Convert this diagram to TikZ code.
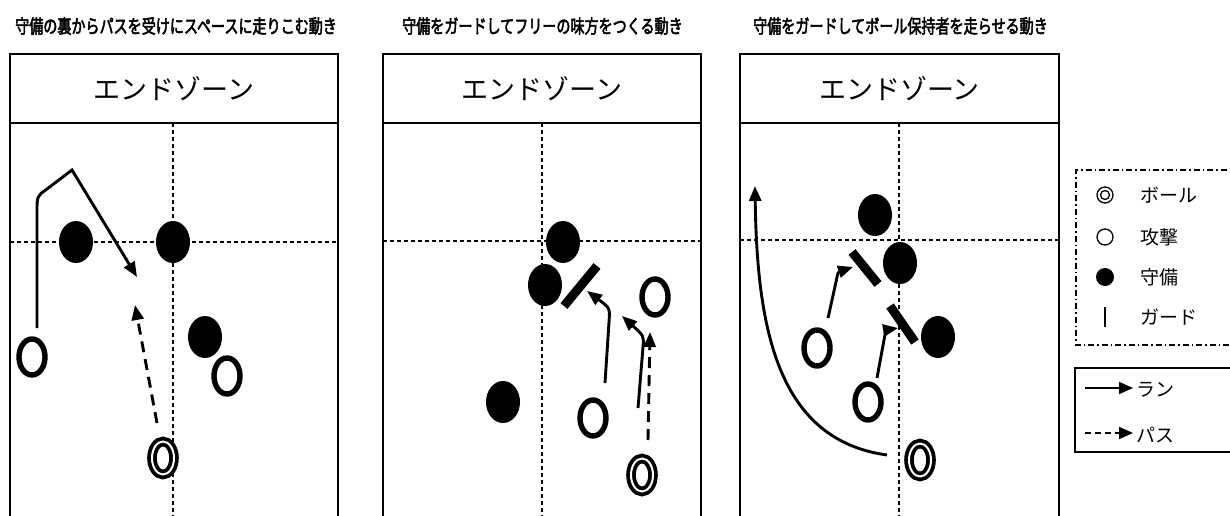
\documentclass[tikz,border=0pt]{standalone}
\usepackage{fontspec}
\usetikzlibrary{shapes.geometric,arrows.meta}
\newfontfamily\jp{Noto Sans CJK JP}
\newfontfamily\jptitle[FakeStretch=0.74,FakeBold=2.6]{Noto Sans CJK JP}
\tikzset{
  offense/.style={ellipse,draw,line width=5.4pt,minimum width=26pt,minimum height=36pt,inner sep=0pt},
  defense/.style={ellipse,fill=black,minimum width=34pt,minimum height=42pt,inner sep=0pt},
  ball/.style={ellipse,draw,line width=3.8pt,double,double distance=2pt,minimum width=22pt,minimum height=33pt,inner sep=0pt},
  guardbar/.style={line width=9pt},
  run/.style={line width=2.9pt,-{Triangle[length=15pt,width=12pt]}},
  pass/.style={line width=2.9pt,dash pattern=on 11pt off 7pt,-{Triangle[length=15pt,width=12pt]}},
  frame/.style={line width=1.4pt},
  grid/.style={line width=1.1pt,dash pattern=on 4pt off 3pt},
  title/.style={font=\jptitle\fontsize{19pt}{21pt}\selectfont,anchor=west,inner sep=0pt},
  zone/.style={font=\jp\fontsize{27pt}{30pt}\selectfont,inner sep=0pt},
  legtext/.style={font=\jp\fontsize{19pt}{22pt}\selectfont,anchor=west,inner sep=0pt},
}
\begin{document}
\begin{tikzpicture}[x=1pt,y=-1pt]
\useasboundingbox[fill=white] (0,0) rectangle (1230,516);

% ---------- titles ----------
\node[title] (t1) at (15,26) {守備の裏からパスを受けにスペースに走りこむ動き};
\node[title] (t2) at (402,26) {守備をガードしてフリーの味方をつくる動き};
\node[title] (t3) at (753,26) {守備をガードしてボール保持者を走らせる動き};

% ---------- panel frames ----------
\foreach \l/\r/\v/\h [count=\i] in {10/338/173/242, 383/701/542/241, 740/1059/899/240}{
  \draw[frame] (\l,516) -- (\l,54) -- (\r,54) -- (\r,516);
  \draw[line width=2pt] (\l,123) -- (\r,123);
  \draw[grid] (\v,123) -- (\v,516);
  \draw[grid] (\l,\h) -- (\r,\h);
  \node[zone] (z\i) at ({(\l+\r)/2},89) {エンドゾーン};
}

% ---------- panel 1 ----------
\node[defense] (d11) at (76,242) {};
\node[defense] (d12) at (173,242) {};
\node[defense] (d13) at (205,337) {};
\node[offense] (o11) at (32,357) {};
\node[offense] (o12) at (227,376) {};
\node[ball] (b1) at (163,458) {};
\coordinate (r1s) at (37,328);
\coordinate (r1e) at (137,277);
\coordinate (p1s) at (157,423);
\coordinate (p1e) at (135,305);
\draw[run] (r1s) -- (37,212) .. controls (37,196) .. (47,189) -- (72,170) -- (r1e);
\draw[pass] (p1s) -- (p1e);

% ---------- panel 2 ----------
\node[defense] (d21) at (563,242) {};
\node[defense] (d22) at (545,285) {};
\node[defense] (d23) at (503,402) {};
\coordinate (g2a) at (597,266);
\coordinate (g2b) at (564,306);
\draw[guardbar] (g2a) -- (g2b);
\node[offense] (o21) at (593,418) {};
\node[offense] (o22) at (655,297) {};
\node[ball] (b2) at (642,475) {};
\coordinate (r21s) at (605,383);
\coordinate (r21e) at (587,291);
\draw[run] (r21s) -- (609,322) .. controls (610,308) .. (r21e);
\coordinate (r22s) at (638,408);
\coordinate (r22e) at (622,316);
\draw[run] (r22s) -- (643,347) .. controls (644,336) .. (r22e);
\coordinate (p2s) at (648,440);
\coordinate (p2e) at (650,332);
\draw[pass] (p2s) -- (p2e);

% ---------- panel 3 ----------
\node[defense] (d31) at (875,215) {};
\node[defense] (d32) at (900,263) {};
\node[defense] (d33) at (938,337) {};
\coordinate (g3a) at (852,252);
\coordinate (g3b) at (878,284);
\draw[guardbar] (g3a) -- (g3b);
\coordinate (g3c) at (890,306);
\coordinate (g3d) at (915,342);
\draw[guardbar] (g3c) -- (g3d);
\node[offense] (o31) at (817,348) {};
\node[offense] (o32) at (868,402) {};
\node[ball] (b3) at (920,460) {};
\coordinate (r31s) at (828,318);
\coordinate (r31e) at (853,267);
\draw[run] (r31s) -- (836,282) .. controls (838,272) .. (r31e);
\coordinate (r32s) at (877,378);
\coordinate (r32e) at (898,328);
\draw[run] (r32s) -- (884,340) .. controls (886,330) .. (r32e);
\coordinate (r33s) at (887,455);
\coordinate (r33e) at (755,186);
\draw[run] (r33s) .. controls (778,440) and (757,330) .. (r33e);

% ---------- legend ----------
\draw[line width=1.8pt,dash pattern=on 6pt off 3pt on 1.5pt off 3pt] (1240,170) -- (1076,170) -- (1076,345) -- (1240,345);
\draw[line width=2pt] (1240,368) -- (1075,368) -- (1075,452) -- (1240,452);

\node[circle,draw,line width=1.3pt,minimum size=16pt,inner sep=0pt] (lb) at (1105,195) {};
\node[circle,draw,line width=1.3pt,minimum size=9pt,inner sep=0pt] (lbi) at (1105,195) {};
\node[legtext] (tb) at (1140,195) {ボール};
\node[circle,draw,line width=1.3pt,minimum size=16pt,inner sep=0pt] (lo) at (1105,237) {};
\node[legtext] (to) at (1140,237) {攻撃};
\node[circle,fill=black,minimum size=18pt,inner sep=0pt] (ld) at (1105,277) {};
\node[legtext] (td) at (1140,277) {守備};
\coordinate (lg1) at (1105,307);
\coordinate (lg2) at (1105,327);
\draw[line width=1.4pt] (lg1) -- (lg2);
\node[legtext] (tg) at (1140,317) {ガード};

\coordinate (lr1) at (1085,388);
\coordinate (lr2) at (1133,388);
\draw[line width=1.8pt,-{Triangle[length=14pt,width=12pt]}] (lr1) -- (lr2);
\node[legtext] (tr) at (1136,390) {ラン};
\coordinate (lp1) at (1085,433);
\coordinate (lp2) at (1133,433);
\draw[line width=1.8pt,dash pattern=on 6pt off 4pt,-{Triangle[length=14pt,width=12pt]}] (lp1) -- (lp2);
\node[legtext] (tp) at (1136,435) {パス};
\end{tikzpicture}
\end{document}
